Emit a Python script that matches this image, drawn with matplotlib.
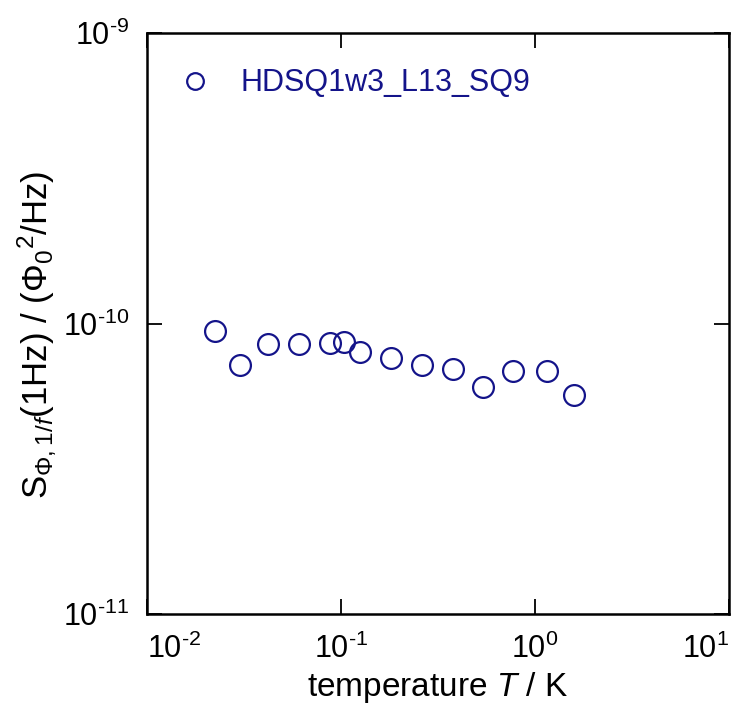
import math
import matplotlib
matplotlib.use("Agg")
import matplotlib.pyplot as plt
from matplotlib.ticker import FixedLocator, NullLocator, FuncFormatter

plt.rcParams["font.family"] = ["Liberation Sans", "DejaVu Sans"]
plt.rcParams["mathtext.fontset"] = "custom"
plt.rcParams["mathtext.rm"] = "Liberation Sans"
plt.rcParams["mathtext.it"] = "Liberation Sans:italic"
plt.rcParams["mathtext.sf"] = "Liberation Sans"

# temperature (K) and flux noise at 1 Hz (Phi0^2/Hz)
temperature = [0.0224, 0.0301, 0.0421, 0.0608, 0.0877, 0.1035, 0.1253,
               0.181, 0.262, 0.378, 0.540, 0.771, 1.153, 1.589]
noise = [9.39e-11, 7.18e-11, 8.47e-11, 8.53e-11, 8.60e-11, 8.67e-11, 8.00e-11,
         7.59e-11, 7.18e-11, 6.95e-11, 6.03e-11, 6.84e-11, 6.89e-11, 5.66e-11]
x_ticks = [1e-2, 1e-1, 1e0, 1e1]
y_ticks = [1e-11, 1e-10, 1e-9]
series_name = "HDSQ1w3_L13_SQ9"
navy = "#14148a"

fig = plt.figure(figsize=(7.36, 7.14), dpi=100)
ax = fig.add_axes([0.1997, 0.140, 0.7908, 0.8138])

ax.plot(temperature, noise, "o", ls="none", ms=15, mfc="none", mec=navy,
        mew=1.6, label=series_name)

ax.set_xscale("log")
ax.set_yscale("log")
ax.set_xlim(x_ticks[0], x_ticks[-1])
ax.set_ylim(y_ticks[0], y_ticks[-1])


def pow_label(v, p):
    e = round(math.log10(v))
    s = str(e).replace("-", "\u2010")
    return r"$\mathregular{10^{%s}}$" % s


ax.xaxis.set_major_locator(FixedLocator(x_ticks))
ax.yaxis.set_major_locator(FixedLocator(y_ticks))
for axis in (ax.xaxis, ax.yaxis):
    axis.set_minor_locator(NullLocator())
    axis.set_major_formatter(FuncFormatter(pow_label))

ax.tick_params(which="major", direction="in", length=11, width=1.3,
               top=True, right=True, labelsize=22)
ax.tick_params(axis="x", pad=14)
ax.tick_params(axis="y", pad=13)
for s in ax.spines.values():
    s.set_linewidth(1.8)

# keep the end labels inside the figure like the original
xl = ax.xaxis.get_major_ticks()
xl[0].label1.set_horizontalalignment("left")
xl[-1].label1.set_horizontalalignment("right")

ax.set_xlabel(r"temperature $T$ / K", fontsize=24, labelpad=4)
ax.set_ylabel(r"S$_{\Phi,1/f}$(1Hz) / ($\Phi_0$$^2$/Hz)", fontsize=25)
ax.yaxis.set_label_coords(-0.153, 0.48)

leg = ax.legend(loc="upper left", bbox_to_anchor=(0.025, 0.96), frameon=False,
                fontsize=22, handlelength=1.4, handletextpad=0.77,
                borderaxespad=0, markerscale=0.8)
for t in leg.get_texts():
    t.set_color(navy)

fig.savefig("out.png", dpi=100)
